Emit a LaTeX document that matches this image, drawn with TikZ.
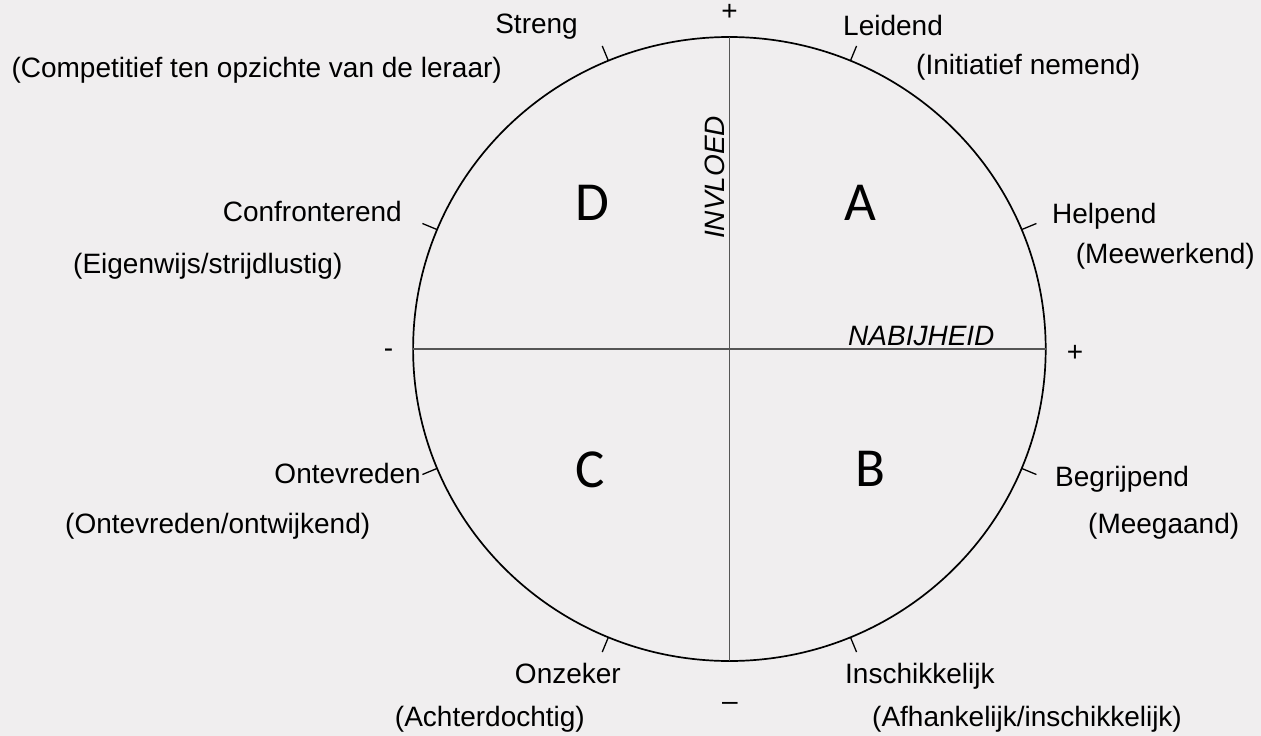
\documentclass[tikz,border=0pt]{standalone}
\usepackage{fontspec}
\setmainfont{Liberation Sans}
\newfontfamily\letterfont{Carlito}
\definecolor{bgc}{RGB}{240,238,239}
\definecolor{axisc}{RGB}{85,85,85}
\begin{document}
\begin{tikzpicture}[x=1pt,y=-1pt,
  lbl/.style={font=\fontsize{28}{33}\selectfont, inner sep=0pt},
  axlbl/.style={font=\itshape\fontsize{28}{33}\selectfont, inner sep=0pt},
  quad/.style={font=\letterfont\fontsize{55}{60}\selectfont, inner sep=0pt},
  tickmark/.style={line width=1.3pt},
  ring/.style={line width=1.7pt},
  axisline/.style={axisc, line width=1.7pt}]
\fill[bgc] (0,0) rectangle (1261,736);
\useasboundingbox (0,0) rectangle (1261,736);
\coordinate (O) at (729.4,349);
\draw[ring] (O) ellipse [x radius=316.3, y radius=312];
\coordinate (T) at (729.4,37);
\coordinate (Bt) at (729.4,661);
\coordinate (L) at (413.1,349);
\coordinate (R) at (1045.7,349);
\draw[axisline] (T) -- (Bt);
\draw[axisline] (L) -- (R);
\foreach \a in {22.5,67.5,112.5,157.5,-22.5,-67.5,-112.5,-157.5}{
  \draw[tickmark] ({729.4+316.3*cos(\a)},{349-312*sin(\a)}) -- ({729.4+332.3*cos(\a)},{349-328*sin(\a)});
}
% quadrant letters
\node[quad, anchor=base] (qD) at (592.5,220.7) {D};
\node[quad, anchor=base] (qA) at (860,220.7) {A};
\node[quad, anchor=base] (qC) at (590,487) {C};
\node[quad, anchor=base] (qB) at (870,486.5) {B};
% axis labels
\node[axlbl, rotate=90, anchor=base] (inv) at (724,177.5) {INVLOED};
\node[axlbl, anchor=base west] (nab) at (848,345) {NABIJHEID};
% signs
\node[lbl] (ptop) at (729.5,12.5) {+};
\node[lbl] (mleft) at (388.5,353) {-};
\node[lbl] (pright) at (1075,353) {+};
\node[lbl] (mbot) at (730,706) {–};
% left labels
\node[lbl, anchor=base east] (s1) at (578,34) {Streng};
\node[lbl, anchor=base east] (s2) at (502,77) {(Competitief ten opzichte van de leraar)};
\node[lbl, anchor=base east] (c1) at (402,221) {Confronterend};
\node[lbl, anchor=base west] (c2) at (73,273) {(Eigenwijs/strijdlustig)};
\node[lbl, anchor=base east] (o1) at (421,483) {Ontevreden};
\node[lbl, anchor=base west] (o2) at (65,533) {(Ontevreden/ontwijkend)};
\node[lbl, anchor=base east] (z1) at (621,683) {Onzeker};
\node[lbl, anchor=base east] (z2) at (585,726) {(Achterdochtig)};
% right labels
\node[lbl, anchor=base west] (l1) at (843,35) {Leidend};
\node[lbl, anchor=base west] (l2) at (916,74) {(Initiatief nemend)};
\node[lbl, anchor=base west] (h1) at (1052,223) {Helpend};
\node[lbl, anchor=base east] (h2) at (1255,263) {(Meewerkend)};
\node[lbl, anchor=base west] (b1) at (1055,486) {Begrijpend};
\node[lbl, anchor=base west] (b2) at (1088,533) {(Meegaand)};
\node[lbl, anchor=base west] (i1) at (845,683) {Inschikkelijk};
\node[lbl, anchor=base west] (i2) at (872,726) {(Afhankelijk/inschikkelijk)};
\end{tikzpicture}
\end{document}
